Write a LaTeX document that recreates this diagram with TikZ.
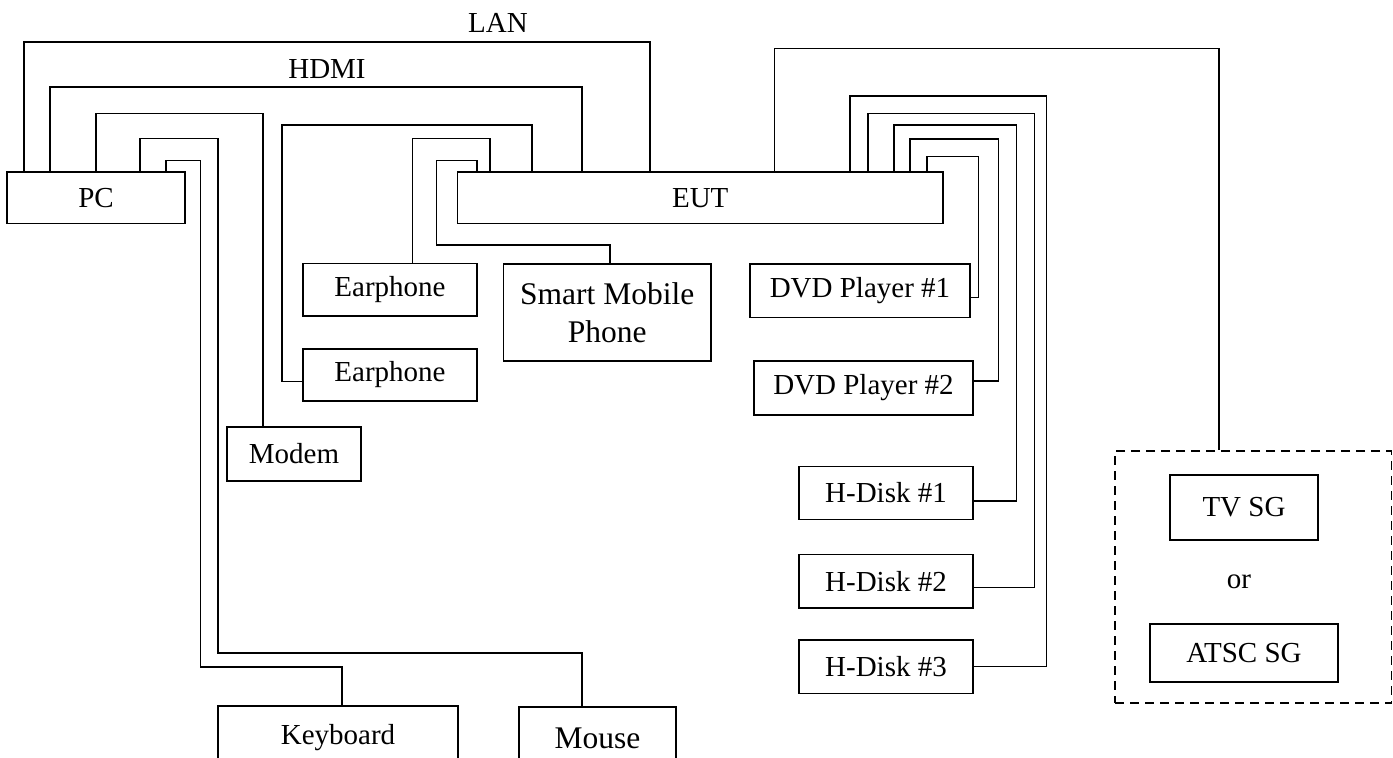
\documentclass[tikz,border=0pt]{standalone}
\usepackage{fontspec}
\setmainfont{Liberation Serif}
\tikzset{
  device/.style    = {shape=rectangle, draw, line width=1.3pt,
                      inner sep=0pt, align=center,
                      font=\fontsize{29}{34}\selectfont},
  bigdevice/.style = {device, font=\fontsize{31.5}{38}\selectfont},
  boxsize/.style 2 args = {minimum width=#1pt, minimum height=#2pt},
  sggroup/.style   = {shape=rectangle, draw, line width=1.3pt,
                      dash pattern=on 9pt off 6pt, inner sep=0pt},
  cable/.style     = {line width=1.3pt},
  cablename/.style = {font=\fontsize{29}{34}\selectfont}
}

\begin{document}
\begin{tikzpicture}[x=1pt, y=-1pt]
  \useasboundingbox (0,0) rectangle (1393,758);

  % devices
  \node[device, boxsize={178}{51.5}]      (pc)       at (96,197.75)    {PC};
  \node[device, boxsize={485.5}{51.5}]    (eut)      at (700.25,197.75) {EUT};
  \node[device, boxsize={174}{52.5}]      (ear1)     at (390,289.75)   {Earphone};
  \node[device, boxsize={174}{52}]        (ear2)     at (390,375)      {Earphone};
  \node[bigdevice, boxsize={207.5}{97}]   (phone)    at (607.25,312.5) {Smart Mobile\\Phone};
  \node[device, boxsize={134}{54}]        (modem)    at (294,454)      {Modem};
  \node[device, boxsize={240}{64}]        (keyboard) at (338,738)      {Keyboard};
  \node[bigdevice, boxsize={157}{63}]     (mouse)    at (597.5,738.5)  {Mouse};
  \node[device, boxsize={220}{53.5}]      (dvd1)     at (860,290.75)   {DVD Player \#1};
  \node[device, boxsize={219}{54}]        (dvd2)     at (863.5,388)    {DVD Player \#2};
  \node[device, boxsize={174}{53}]        (hd1)      at (886,493)      {H-Disk \#1};
  \node[device, boxsize={174}{53.5}]      (hd2)      at (886,581.25)   {H-Disk \#2};
  \node[device, boxsize={174}{53.5}]      (hd3)      at (886,666.75)   {H-Disk \#3};

  % signal generator group
  \node[sggroup, minimum width=276.5pt, minimum height=252pt] (sg) at (1253.25,577) {};
  \node[device, boxsize={148}{65}]        (tvsg)     at (1244,507.5)   {TV SG};
  \node[cablename]                        (or)       at (1239,582)     {or};
  \node[device, boxsize={188}{58}]        (atsc)     at (1244,653)     {ATSC SG};

  % cable names
  \node[cablename] (lan)  at (498,23) {LAN};
  \node[cablename] (hdmi) at (327,69) {HDMI};

  % PC to EUT
  \foreach \a/\h/\b in {24/42/650, 50/87/582}
    \draw[cable] (pc.north -| \a,0) |- (\b,\h) -- (eut.north -| \b,0);

  % PC to modem, mouse, keyboard
  \draw[cable] (pc.north -| 96,0) |- (263,113.5) -- (modem.north -| 263,0);
  \draw[cable] (pc.north -| 140,0) |- (218,138.5) |- (582,653) -- (mouse.north -| 582,0);
  \draw[cable] (pc.north -| 166,0) |- (200.5,160.7) |- (342,667) -- (keyboard.north -| 342,0);

  % EUT to earphones and phone
  \draw[cable] (eut.north -| 532,0) |- (282,125) |- (ear2.west |- 0,381.5);
  \draw[cable] (eut.north -| 490,0) |- (412.3,138.3) -- (ear1.north -| 412.3,0);
  \draw[cable] (eut.north -| 477,0) |- (436.7,160.7) |- (610,245) -- (phone.north -| 610,0);

  % EUT to signal generator
  \draw[cable] (eut.north -| 774.5,0) |- (1219,48.3) -- (sg.north -| 1219,0);

  % EUT to players and disks
  \foreach \a/\h/\b/\y/\dev in {927/156.3/978.3/297.3/dvd1, 910/139/998.7/381/dvd2,
                                894/125/1016.7/501/hd1, 868/113.3/1034.3/587.7/hd2,
                                850/96/1046.7/666.7/hd3}
    \draw[cable] (eut.north -| \a,0) |- (\b,\h) |- (\dev.east |- 0,\y);

\end{tikzpicture}
\end{document}
